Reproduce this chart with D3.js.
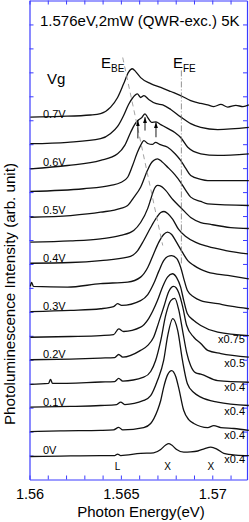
<!DOCTYPE html>
<html>
<head>
<meta charset="utf-8">
<script src="https://cdn.jsdelivr.net/npm/d3@7"></script>
<style>
body { margin: 0; background: #fff; }
text { font-family: "Liberation Sans", Arial, sans-serif; fill: #000; }
</style>
</head>
<body>
<div id="chart-area"></div>
<script>
// PL spectra, [photon energy (eV), intensity above the curve's own baseline (arb.)]
const s000 = [[1.56005,-0.04],[1.56170,-0.02],[1.56389,0],[1.56466,0],[1.56482,0.06],[1.56499,0],[1.56608,0.09],[1.56679,0.11],[1.56718,0.25],[1.56745,0.44],[1.56762,0.5],[1.56778,0.44],[1.56805,0.25],[1.56844,0.14],[1.56882,0.15],[1.56921,0.19],[1.56959,0.29],[1.56992,0.35],[1.57025,0.27],[1.57063,0.09],[1.57129,0.02],[1.57200,0]]
const s005 = [[1.56005,0],[1.56170,0.03],[1.56389,0.05],[1.56460,0.07],[1.56488,0.18],[1.56510,0.07],[1.56625,0.17],[1.56663,0.34],[1.56700,0.88],[1.56718,1.3],[1.56734,1.85],[1.56756,2.38],[1.56778,2.55],[1.56800,2.3],[1.56816,1.84],[1.56844,0.88],[1.56871,0.5],[1.56899,0.34],[1.56975,0.17],[1.57008,0.25],[1.57047,0.17],[1.57118,0.13],[1.57200,0.05]]
const s010 = [[1.56005,0.02],[1.56225,0.05],[1.56389,0.09],[1.56477,0.13],[1.56499,0.23],[1.56521,0.13],[1.56625,0.3],[1.56663,0.5],[1.56700,1.13],[1.56734,1.97],[1.56756,3.0],[1.56784,3.72],[1.56811,3.22],[1.56837,1.97],[1.56864,1.0],[1.56899,0.63],[1.56937,0.44],[1.57029,0.23],[1.57200,0.09]]
const s015 = [[1.56005,-0.03],[1.56104,0.01],[1.56115,0.18],[1.56126,0.01],[1.56389,0.07],[1.56466,0.09],[1.56488,0.22],[1.56510,0.11],[1.56625,0.27],[1.56663,0.51],[1.56690,0.97],[1.56718,1.8],[1.56745,2.85],[1.56773,3.47],[1.56795,3.56],[1.56816,3.1],[1.56838,2.2],[1.56860,1.3],[1.56882,0.75],[1.56910,0.45],[1.56937,0.4],[1.57030,0.13],[1.57200,0.06]]
const s020 = [[1.56005,0],[1.56225,0.03],[1.56389,0.07],[1.56466,0.09],[1.56488,0.22],[1.56510,0.11],[1.56608,0.39],[1.56647,0.6],[1.56679,0.94],[1.56707,1.56],[1.56734,2.19],[1.56762,2.85],[1.56789,3.06],[1.56816,2.81],[1.56838,2.22],[1.56860,1.43],[1.56899,0.94],[1.56937,0.68],[1.56975,0.39],[1.57047,0.26],[1.57200,0.11]]
const s025 = [[1.56005,-0.06],[1.56225,-0.03],[1.56389,0.01],[1.56460,0.05],[1.56488,0.29],[1.56515,0.18],[1.56608,0.36],[1.56652,0.72],[1.56700,1.47],[1.56729,2.06],[1.56755,2.45],[1.56782,2.59],[1.56805,2.43],[1.56827,2.03],[1.56844,1.47],[1.56864,0.92],[1.56899,0.64],[1.56937,0.43],[1.57030,0.15],[1.57200,0.01]]
const s030 = [[1.56005,0.01],[1.56225,0.06],[1.56389,0.13],[1.56460,0.22],[1.56482,0.34],[1.56504,0.27],[1.56608,0.47],[1.56647,0.72],[1.56679,1.17],[1.56707,1.69],[1.56734,2.14],[1.56756,2.31],[1.56778,2.35],[1.56805,2.23],[1.56827,1.86],[1.56844,1.39],[1.56864,0.89],[1.56899,0.62],[1.56937,0.47],[1.57030,0.34],[1.57101,0.24],[1.57200,0.13]]
const s035 = [[1.56005,0.06],[1.56011,0.23],[1.56022,0.06],[1.56208,0.03],[1.56389,0.18],[1.56537,0.24],[1.56608,0.45],[1.56647,0.85],[1.56679,1.42],[1.56707,1.9],[1.56734,2.23],[1.56755,2.33],[1.56778,2.23],[1.56805,1.9],[1.56837,1.48],[1.56866,1.14],[1.56899,0.94],[1.56937,0.77],[1.56975,0.66],[1.57085,0.52],[1.57200,0.38]]
const s040 = [[1.56005,0.03],[1.56225,0.06],[1.56389,0.14],[1.56537,0.28],[1.56592,0.56],[1.56625,0.98],[1.56663,1.52],[1.56696,1.94],[1.56718,2.15],[1.56736,2.19],[1.56756,2.11],[1.56784,1.86],[1.56816,1.44],[1.56855,1.15],[1.56910,0.9],[1.56975,0.73],[1.57074,0.56],[1.57195,0.42]]
const s045 = [[1.56005,-0.09],[1.56225,-0.04],[1.56389,0.05],[1.56499,0.19],[1.56570,0.4],[1.56608,0.73],[1.56647,1.32],[1.56663,1.69],[1.56679,2.07],[1.56701,2.28],[1.56723,2.23],[1.56745,2.07],[1.56784,1.69],[1.56827,1.36],[1.56882,0.94],[1.56937,0.73],[1.56992,0.65],[1.57101,0.52],[1.57200,0.48]]
const s050 = [[1.56005,-0.05],[1.56225,0.02],[1.56389,0.16],[1.56499,0.32],[1.56537,0.44],[1.56570,0.77],[1.56608,1.2],[1.56645,1.9],[1.56663,2.18],[1.56679,2.32],[1.56700,2.39],[1.56723,2.28],[1.56756,2.04],[1.56795,1.73],[1.56827,1.41],[1.56855,1.07],[1.56882,0.79],[1.56937,0.61],[1.56975,0.51],[1.57200,0.44]]
const s055 = [[1.56005,0.03],[1.56296,0.14],[1.56444,0.28],[1.56499,0.4],[1.56537,0.62],[1.56564,1.11],[1.56590,1.65],[1.56608,1.95],[1.56626,2.15],[1.56647,2.03],[1.56672,1.99],[1.56690,2.08],[1.56712,1.99],[1.56756,1.87],[1.56795,1.61],[1.56827,1.32],[1.56855,0.99],[1.56882,0.69],[1.56937,0.53],[1.56975,0.48],[1.57200,0.48]]
const s060 = [[1.56005,-0.03],[1.56208,0.11],[1.56389,0.32],[1.56482,0.6],[1.56521,0.95],[1.56553,1.49],[1.56575,1.82],[1.56593,1.99],[1.56614,2.11],[1.56632,2.27],[1.56647,2.11],[1.56668,1.91],[1.56692,1.93],[1.56718,1.82],[1.56756,1.66],[1.56795,1.49],[1.56827,1.28],[1.56866,0.87],[1.56937,0.6],[1.57030,0.53],[1.57200,0.6]]
const s065 = [[1.56005,0.02],[1.56208,0.08],[1.56389,0.23],[1.56444,0.45],[1.56482,0.74],[1.56515,1.2],[1.56542,1.66],[1.56564,1.93],[1.56590,2.1],[1.56608,1.95],[1.56626,2.03],[1.56652,1.87],[1.56694,1.69],[1.56729,1.64],[1.56773,1.45],[1.56827,1.14],[1.56882,0.86],[1.56937,0.7],[1.57030,0.61],[1.57200,0.7]]
const s070 = [[1.56005,0.13],[1.56170,0.16],[1.56334,0.22],[1.56389,0.28],[1.56444,0.55],[1.56482,0.95],[1.56515,1.52],[1.56542,2.01],[1.56562,2.15],[1.56581,2.03],[1.56608,1.78],[1.56663,1.53],[1.56718,1.37],[1.56773,1.2],[1.56827,1.03],[1.56882,0.82],[1.56937,0.7],[1.56975,0.64],[1.57008,0.57],[1.57047,0.66],[1.57085,0.55],[1.57129,0.62],[1.57168,0.57],[1.57200,0.64]]

const spectra = [s000, s005, s010, s015, s020, s025, s030, s035, s040, s045, s050, s055, s060, s065, s070]
const offsets = [1, 2, 3, 4, 5, 6, 7, 8, 9, 10, 11, 12, 13, 14, 15]
const voltLabels = ["0V", "", "0.1V", "", "0.2V", "", "0.3V", "", "0.4V", "", "0.5V", "", "0.6V", "", "0.7V"]
const scaleLabels = ["x0.4", "x0.4", "x0.4", "x0.4", "x0.5", "x0.75"]

const xTickLabels = [1.56, 1.565, 1.57]
const peakNames = ["L", "X", "X"]
const peakEnergies = [1.56482, 1.56756, 1.56992]

// arrows under the split peaks of the 0.6V spectrum: energy, tail, tip
const arrowE = [1.56593, 1.56632, 1.56692]
const arrowTail = [14.24, 14.57, 14.29]
const arrowTip = [14.99, 15.13, 14.92]

// guide lines for E_BE and E_FE
const lineBE = [[1.56510, 17.62], [1.56729, 9.77]]
const lineFE = [[1.56831, 17.08], [1.56831, 8.94]]

const width = 249, height = 522
const plot = {left: 29.5, right: 247, top: 0.5, bottom: 479.5}
const axisColor = "#3b3bff"

const svg = d3.select("#chart-area").append("svg")
    .attr("width", width)
    .attr("height", height)

const x = d3.scaleLinear().domain([1.56, 1.5719]).range([plot.left, plot.right])
const y = d3.scaleLinear().domain([0, 20]).range([plot.bottom, plot.top])

const minorTicks = d3.range(0, 12).map(i => +(1.56 + i * 0.001).toFixed(3))
const yTicks = d3.range(1, 20)

// Axes, ticks point inwards
const xAxisBottom = svg.append("g")
    .attr("transform", `translate(0, ${plot.bottom})`)
    .call(d3.axisBottom(x).tickValues(minorTicks).tickSizeInner(-4).tickSizeOuter(0).tickPadding(9)
        .tickFormat(d => xTickLabels.some(v => Math.abs(v - d) < 1e-6) ? d3.format("")(d) : ""))
const xAxisTop = svg.append("g")
    .attr("transform", `translate(0, ${plot.top})`)
    .call(d3.axisTop(x).tickValues(minorTicks).tickSizeInner(-4).tickSizeOuter(0).tickFormat(""))
const yAxisLeft = svg.append("g")
    .attr("transform", `translate(${plot.left}, 0)`)
    .call(d3.axisLeft(y).tickValues(yTicks).tickSizeInner(-4).tickSizeOuter(0).tickFormat(""))
const yAxisRight = svg.append("g")
    .attr("transform", `translate(${plot.right}, 0)`)
    .call(d3.axisRight(y).tickValues(yTicks).tickSizeInner(-4).tickSizeOuter(0).tickFormat(""))

;[xAxisBottom, xAxisTop, yAxisLeft, yAxisRight].forEach(a => {
    a.select(".domain").attr("stroke", axisColor).attr("stroke-width", 1.2)
    a.selectAll(".tick line").attr("stroke", axisColor)
})
xAxisBottom.selectAll(".tick text")
    .attr("font-size", "14.5px")
    .attr("font-family", "Liberation Sans, Arial, sans-serif")
    .attr("fill", "#000")

// Spectra
const line = d3.line()
    .x(d => x(d[0]))
    .y(d => y(d[1]))
    .curve(d3.curveMonotoneX)

svg.append("g").selectAll("path")
    .data(spectra)
    .enter().append("path")
    .attr("fill", "none")
    .attr("stroke", "#111")
    .attr("stroke-width", 1.3)
    .attr("stroke-linejoin", "round")
    .attr("d", (s, i) => line(s.map(d => [d[0], d[1] + offsets[i]])))

// Guide lines
const guide = d3.line().x(d => x(d[0])).y(d => y(d[1]))
svg.append("path")
    .attr("d", guide(lineBE))
    .attr("fill", "none")
    .attr("stroke", "#999")
    .attr("stroke-width", 0.9)
    .attr("stroke-dasharray", "5,4")
svg.append("path")
    .attr("d", guide(lineFE))
    .attr("fill", "none")
    .attr("stroke", "#777")
    .attr("stroke-width", 0.8)
    .attr("stroke-dasharray", "6,2,1,2")

// Arrows
svg.append("defs").append("marker")
    .attr("id", "head")
    .attr("viewBox", "0 0 6 4")
    .attr("refX", 6).attr("refY", 2)
    .attr("markerWidth", 6).attr("markerHeight", 4)
    .attr("markerUnits", "userSpaceOnUse")
    .attr("orient", "auto")
    .append("path")
    .attr("d", "M0,0L6,2L0,4Z")
    .attr("fill", "#000")

svg.append("g").selectAll("line")
    .data(arrowE)
    .enter().append("line")
    .attr("x1", d => x(d)).attr("x2", d => x(d))
    .attr("y1", (d, i) => y(arrowTail[i]))
    .attr("y2", (d, i) => y(arrowTip[i]))
    .attr("stroke", "#000")
    .attr("stroke-width", 0.9)
    .attr("marker-end", "url(#head)")

// Voltage labels
svg.append("g").selectAll("text")
    .data(voltLabels)
    .enter().append("text")
    .attr("x", 43)
    .attr("y", (d, i) => y(offsets[i] + 0.08))
    .attr("font-size", "11px")
    .text(d => d)

// Scale factors at the right end
svg.append("g").selectAll("text")
    .data(scaleLabels)
    .enter().append("text")
    .attr("x", 245)
    .attr("y", (d, i) => y(offsets[i] - 0.3))
    .attr("text-anchor", "end")
    .attr("font-size", "11px")
    .text(d => d)

// Peak names at the bottom
svg.append("g").selectAll("text")
    .data(peakNames)
    .enter().append("text")
    .attr("x", (d, i) => x(peakEnergies[i]))
    .attr("y", 469.5)
    .attr("text-anchor", "middle")
    .attr("font-size", "10px")
    .text(d => d)

// Titles and annotations
svg.append("text")
    .attr("x", 40).attr("y", 26)
    .attr("font-size", "15px")
    .text("1.576eV,2mW (QWR-exc.) 5K")

svg.append("text")
    .attr("x", 47).attr("y", 84)
    .attr("font-size", "15px")
    .text("Vg")

const eBE = svg.append("text").attr("x", 101).attr("y", 68).attr("font-size", "15px").text("E")
eBE.append("tspan").attr("font-size", "10px").attr("dy", 4).text("BE")
const eFE = svg.append("text").attr("x", 173).attr("y", 68).attr("font-size", "15px").text("E")
eFE.append("tspan").attr("font-size", "10px").attr("dy", 4).text("FE")

svg.append("text")
    .attr("x", 141).attr("y", 517)
    .attr("text-anchor", "middle")
    .attr("font-size", "15px")
    .text("Photon Energy(eV)")

svg.append("text")
    .attr("transform", "translate(15, 294) rotate(-90)")
    .attr("text-anchor", "middle")
    .attr("font-size", "15px")
    .attr("textLength", 262)
    .attr("lengthAdjust", "spacingAndGlyphs")
    .text("Photoluminescence Intensity (arb. unit)")
</script>
</body>
</html>
